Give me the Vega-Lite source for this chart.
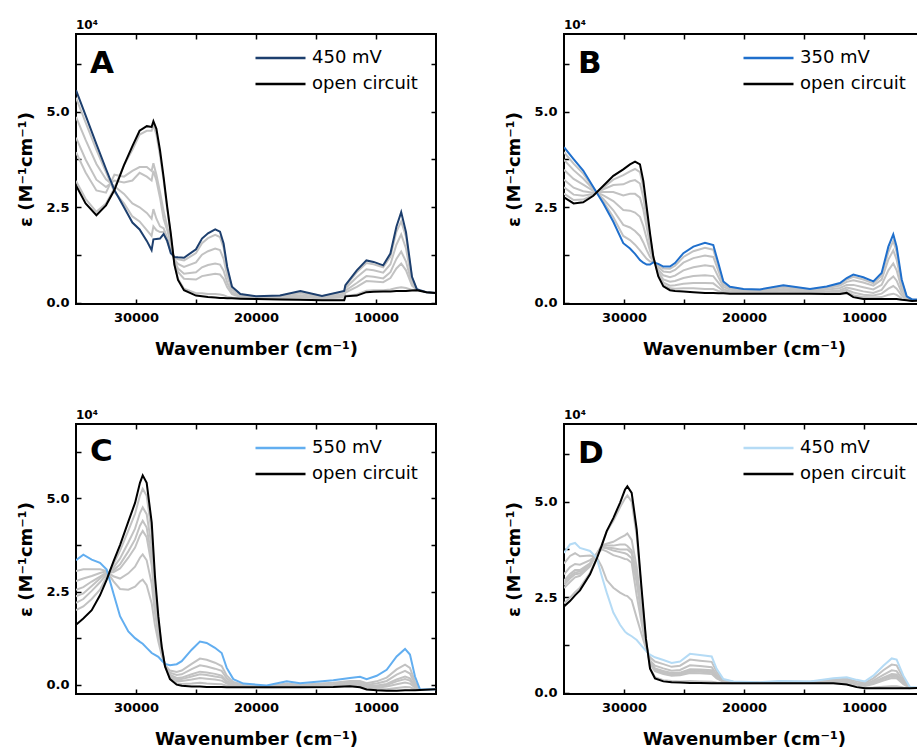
{"$schema":"https://vega.github.io/schema/vega-lite/v6.json","background":"white","padding":{"left":16,"top":18,"right":0,"bottom":0},
"datasets":{
"A":[{"s":"K","x":35000,"y":3.07},{"s":"K","x":34200,"y":2.6},{"s":"K","x":33300,"y":2.29},{"s":"K","x":32500,"y":2.55},{"s":"K","x":31800,"y":2.95},{"s":"K","x":31000,"y":3.6},{"s":"K","x":30300,"y":4.1},{"s":"K","x":29700,"y":4.5},{"s":"K","x":29100,"y":4.62},{"s":"K","x":28700,"y":4.6},{"s":"K","x":28550,"y":4.75},{"s":"K","x":28300,"y":4.55},{"s":"K","x":28000,"y":3.99},{"s":"K","x":27700,"y":3.29},{"s":"K","x":27400,"y":2.51},{"s":"K","x":27100,"y":1.81},{"s":"K","x":26800,"y":1.0},{"s":"K","x":26500,"y":0.6},{"s":"K","x":26000,"y":0.33},{"s":"K","x":25000,"y":0.19},{"s":"K","x":24500,"y":0.17},{"s":"K","x":24000,"y":0.15},{"s":"K","x":23400,"y":0.14},{"s":"K","x":23000,"y":0.13},{"s":"K","x":22700,"y":0.13},{"s":"K","x":22400,"y":0.12},{"s":"K","x":22000,"y":0.12},{"s":"K","x":21300,"y":0.11},{"s":"K","x":20000,"y":0.1},{"s":"K","x":18000,"y":0.09},{"s":"K","x":16300,"y":0.08},{"s":"K","x":14500,"y":0.07},{"s":"K","x":12650,"y":0.07},{"s":"K","x":12550,"y":0.17},{"s":"K","x":11600,"y":0.19},{"s":"K","x":10800,"y":0.28},{"s":"K","x":10200,"y":0.29},{"s":"K","x":9400,"y":0.3},{"s":"K","x":8800,"y":0.3},{"s":"K","x":8300,"y":0.31},{"s":"K","x":7900,"y":0.31},{"s":"K","x":7500,"y":0.31},{"s":"K","x":7000,"y":0.32},{"s":"K","x":6600,"y":0.33},{"s":"K","x":5800,"y":0.28},{"s":"K","x":5000,"y":0.26},
{"s":"N","x":35000,"y":5.56},{"s":"N","x":34200,"y":4.9},{"s":"N","x":33300,"y":4.15},{"s":"N","x":32500,"y":3.5},{"s":"N","x":31800,"y":2.95},{"s":"N","x":31000,"y":2.5},{"s":"N","x":30300,"y":2.1},{"s":"N","x":29700,"y":1.92},{"s":"N","x":29100,"y":1.62},{"s":"N","x":28700,"y":1.38},{"s":"N","x":28550,"y":1.66},{"s":"N","x":28300,"y":1.67},{"s":"N","x":28000,"y":1.68},{"s":"N","x":27700,"y":1.8},{"s":"N","x":27400,"y":1.62},{"s":"N","x":27100,"y":1.3},{"s":"N","x":26800,"y":1.2},{"s":"N","x":26500,"y":1.19},{"s":"N","x":26000,"y":1.18},{"s":"N","x":25000,"y":1.4},{"s":"N","x":24500,"y":1.68},{"s":"N","x":24000,"y":1.82},{"s":"N","x":23400,"y":1.92},{"s":"N","x":23000,"y":1.86},{"s":"N","x":22700,"y":1.55},{"s":"N","x":22400,"y":0.94},{"s":"N","x":22000,"y":0.42},{"s":"N","x":21300,"y":0.23},{"s":"N","x":20000,"y":0.17},{"s":"N","x":18000,"y":0.19},{"s":"N","x":16300,"y":0.31},{"s":"N","x":14500,"y":0.18},{"s":"N","x":12650,"y":0.31},{"s":"N","x":12550,"y":0.46},{"s":"N","x":11600,"y":0.85},{"s":"N","x":10800,"y":1.11},{"s":"N","x":10200,"y":1.07},{"s":"N","x":9400,"y":0.98},{"s":"N","x":8800,"y":1.29},{"s":"N","x":8300,"y":1.99},{"s":"N","x":7900,"y":2.37},{"s":"N","x":7500,"y":1.85},{"s":"N","x":7000,"y":0.68},{"s":"N","x":6600,"y":0.36},{"s":"N","x":5800,"y":0.28},{"s":"N","x":5000,"y":0.26},
{"s":"a","x":35000,"y":5.36},{"s":"a","x":34200,"y":4.72},{"s":"a","x":33300,"y":4.0},{"s":"a","x":32500,"y":3.42},{"s":"a","x":31800,"y":2.9},{"s":"a","x":31000,"y":2.6},{"s":"a","x":30300,"y":2.26},{"s":"a","x":29700,"y":2.13},{"s":"a","x":29100,"y":1.9},{"s":"a","x":28700,"y":1.75},{"s":"a","x":28550,"y":2.0},{"s":"a","x":28300,"y":1.9},{"s":"a","x":28000,"y":1.85},{"s":"a","x":27700,"y":1.85},{"s":"a","x":27400,"y":1.6},{"s":"a","x":27100,"y":1.34},{"s":"a","x":26800,"y":1.18},{"s":"a","x":26500,"y":1.14},{"s":"a","x":26000,"y":1.11},{"s":"a","x":25000,"y":1.3},{"s":"a","x":24500,"y":1.56},{"s":"a","x":24000,"y":1.69},{"s":"a","x":23400,"y":1.78},{"s":"a","x":23000,"y":1.72},{"s":"a","x":22700,"y":1.44},{"s":"a","x":22400,"y":0.87},{"s":"a","x":22000,"y":0.4},{"s":"a","x":21300,"y":0.22},{"s":"a","x":20000,"y":0.16},{"s":"a","x":18000,"y":0.18},{"s":"a","x":16300,"y":0.29},{"s":"a","x":14500,"y":0.17},{"s":"a","x":12650,"y":0.29},{"s":"a","x":12550,"y":0.44},{"s":"a","x":11600,"y":0.8},{"s":"a","x":10800,"y":1.04},{"s":"a","x":10200,"y":1.01},{"s":"a","x":9400,"y":0.93},{"s":"a","x":8800,"y":1.21},{"s":"a","x":8300,"y":1.86},{"s":"a","x":7900,"y":2.13},{"s":"a","x":7500,"y":1.73},{"s":"a","x":7000,"y":0.65},{"s":"a","x":6600,"y":0.36},
{"s":"b","x":35000,"y":4.86},{"s":"b","x":34200,"y":4.26},{"s":"b","x":33300,"y":3.63},{"s":"b","x":32500,"y":3.23},{"s":"b","x":31800,"y":3.05},{"s":"b","x":31000,"y":2.85},{"s":"b","x":30300,"y":2.6},{"s":"b","x":29700,"y":2.5},{"s":"b","x":29100,"y":2.35},{"s":"b","x":28700,"y":2.2},{"s":"b","x":28550,"y":2.45},{"s":"b","x":28300,"y":2.2},{"s":"b","x":28000,"y":2.0},{"s":"b","x":27700,"y":1.95},{"s":"b","x":27400,"y":1.7},{"s":"b","x":27100,"y":1.44},{"s":"b","x":26800,"y":1.14},{"s":"b","x":26500,"y":1.02},{"s":"b","x":26000,"y":0.94},{"s":"b","x":25000,"y":1.06},{"s":"b","x":24500,"y":1.26},{"s":"b","x":24000,"y":1.35},{"s":"b","x":23400,"y":1.42},{"s":"b","x":23000,"y":1.38},{"s":"b","x":22700,"y":1.15},{"s":"b","x":22400,"y":0.71},{"s":"b","x":22000,"y":0.34},{"s":"b","x":21300,"y":0.2},{"s":"b","x":20000,"y":0.15},{"s":"b","x":18000,"y":0.16},{"s":"b","x":16300,"y":0.25},{"s":"b","x":14500,"y":0.15},{"s":"b","x":12650,"y":0.24},{"s":"b","x":12550,"y":0.38},{"s":"b","x":11600,"y":0.67},{"s":"b","x":10800,"y":0.88},{"s":"b","x":10200,"y":0.85},{"s":"b","x":9400,"y":0.79},{"s":"b","x":8800,"y":1.01},{"s":"b","x":8300,"y":1.52},{"s":"b","x":7900,"y":1.79},{"s":"b","x":7500,"y":1.42},{"s":"b","x":7000,"y":0.58},{"s":"b","x":6600,"y":0.35},
{"s":"c","x":35000,"y":4.32},{"s":"c","x":34200,"y":3.75},{"s":"c","x":33300,"y":3.22},{"s":"c","x":32500,"y":3.03},{"s":"c","x":31800,"y":3.2},{"s":"c","x":31000,"y":3.15},{"s":"c","x":30300,"y":3.2},{"s":"c","x":29700,"y":3.4},{"s":"c","x":29100,"y":3.3},{"s":"c","x":28700,"y":3.2},{"s":"c","x":28550,"y":3.45},{"s":"c","x":28300,"y":3.2},{"s":"c","x":28000,"y":2.75},{"s":"c","x":27700,"y":2.2},{"s":"c","x":27400,"y":1.9},{"s":"c","x":27100,"y":1.56},{"s":"c","x":26800,"y":1.1},{"s":"c","x":26500,"y":0.9},{"s":"c","x":26000,"y":0.76},{"s":"c","x":25000,"y":0.8},{"s":"c","x":24500,"y":0.93},{"s":"c","x":24000,"y":0.99},{"s":"c","x":23400,"y":1.03},{"s":"c","x":23000,"y":1.0},{"s":"c","x":22700,"y":0.84},{"s":"c","x":22400,"y":0.53},{"s":"c","x":22000,"y":0.27},{"s":"c","x":21300,"y":0.17},{"s":"c","x":20000,"y":0.14},{"s":"c","x":18000,"y":0.14},{"s":"c","x":16300,"y":0.2},{"s":"c","x":14500,"y":0.13},{"s":"c","x":12650,"y":0.19},{"s":"c","x":12550,"y":0.32},{"s":"c","x":11600,"y":0.52},{"s":"c","x":10800,"y":0.7},{"s":"c","x":10200,"y":0.68},{"s":"c","x":9400,"y":0.64},{"s":"c","x":8800,"y":0.8},{"s":"c","x":8300,"y":1.15},{"s":"c","x":7900,"y":1.34},{"s":"c","x":7500,"y":1.08},{"s":"c","x":7000,"y":0.5},{"s":"c","x":6600,"y":0.35},
{"s":"d","x":35000,"y":3.94},{"s":"d","x":34200,"y":3.41},{"s":"d","x":33300,"y":2.94},{"s":"d","x":32500,"y":2.88},{"s":"d","x":31800,"y":3.35},{"s":"d","x":31000,"y":3.3},{"s":"d","x":30300,"y":3.45},{"s":"d","x":29700,"y":3.55},{"s":"d","x":29100,"y":3.55},{"s":"d","x":28700,"y":3.45},{"s":"d","x":28550,"y":3.65},{"s":"d","x":28300,"y":3.35},{"s":"d","x":28000,"y":2.9},{"s":"d","x":27700,"y":2.4},{"s":"d","x":27400,"y":2.0},{"s":"d","x":27100,"y":1.63},{"s":"d","x":26800,"y":1.07},{"s":"d","x":26500,"y":0.81},{"s":"d","x":26000,"y":0.63},{"s":"d","x":25000,"y":0.61},{"s":"d","x":24500,"y":0.7},{"s":"d","x":24000,"y":0.73},{"s":"d","x":23400,"y":0.76},{"s":"d","x":23000,"y":0.74},{"s":"d","x":22700,"y":0.63},{"s":"d","x":22400,"y":0.41},{"s":"d","x":22000,"y":0.23},{"s":"d","x":21300,"y":0.15},{"s":"d","x":20000,"y":0.12},{"s":"d","x":18000,"y":0.13},{"s":"d","x":16300,"y":0.16},{"s":"d","x":14500,"y":0.11},{"s":"d","x":12650,"y":0.15},{"s":"d","x":12550,"y":0.27},{"s":"d","x":11600,"y":0.42},{"s":"d","x":10800,"y":0.57},{"s":"d","x":10200,"y":0.56},{"s":"d","x":9400,"y":0.54},{"s":"d","x":8800,"y":0.65},{"s":"d","x":8300,"y":0.9},{"s":"d","x":7900,"y":1.03},{"s":"d","x":7500,"y":0.85},{"s":"d","x":7000,"y":0.45},{"s":"d","x":6600,"y":0.34},
{"s":"e","x":35000,"y":3.19},{"s":"e","x":34200,"y":2.72},{"s":"e","x":33300,"y":2.38},{"s":"e","x":32500,"y":2.6},{"s":"e","x":31800,"y":3.0},{"s":"e","x":31000,"y":3.6},{"s":"e","x":30300,"y":4.0},{"s":"e","x":29700,"y":4.4},{"s":"e","x":29100,"y":4.5},{"s":"e","x":28700,"y":4.5},{"s":"e","x":28550,"y":4.65},{"s":"e","x":28300,"y":4.4},{"s":"e","x":28000,"y":3.85},{"s":"e","x":27700,"y":3.2},{"s":"e","x":27400,"y":2.45},{"s":"e","x":27100,"y":1.78},{"s":"e","x":26800,"y":1.01},{"s":"e","x":26500,"y":0.63},{"s":"e","x":26000,"y":0.37},{"s":"e","x":25000,"y":0.25},{"s":"e","x":24500,"y":0.25},{"s":"e","x":24000,"y":0.23},{"s":"e","x":23400,"y":0.23},{"s":"e","x":23000,"y":0.22},{"s":"e","x":22700,"y":0.2},{"s":"e","x":22400,"y":0.16},{"s":"e","x":22000,"y":0.14},{"s":"e","x":21300,"y":0.12},{"s":"e","x":20000,"y":0.1},{"s":"e","x":18000,"y":0.1},{"s":"e","x":16300,"y":0.09},{"s":"e","x":14500,"y":0.08},{"s":"e","x":12650,"y":0.08},{"s":"e","x":12550,"y":0.18},{"s":"e","x":11600,"y":0.22},{"s":"e","x":10800,"y":0.32},{"s":"e","x":10200,"y":0.33},{"s":"e","x":9400,"y":0.33},{"s":"e","x":8800,"y":0.35},{"s":"e","x":8300,"y":0.39},{"s":"e","x":7900,"y":0.41},{"s":"e","x":7500,"y":0.39},{"s":"e","x":7000,"y":0.34},{"s":"e","x":6600,"y":0.33}],
"B":[{"s":"K","x":35000,"y":2.76},{"s":"K","x":34200,"y":2.6},{"s":"K","x":33400,"y":2.63},{"s":"K","x":32560,"y":2.8},{"s":"K","x":31720,"y":3.06},{"s":"K","x":30890,"y":3.32},{"s":"K","x":30060,"y":3.49},{"s":"K","x":29500,"y":3.62},{"s":"K","x":29080,"y":3.69},{"s":"K","x":28670,"y":3.62},{"s":"K","x":28390,"y":3.19},{"s":"K","x":28110,"y":2.5},{"s":"K","x":27830,"y":1.81},{"s":"K","x":27560,"y":1.21},{"s":"K","x":27140,"y":0.69},{"s":"K","x":26720,"y":0.43},{"s":"K","x":26170,"y":0.33},{"s":"K","x":25750,"y":0.31},{"s":"K","x":25050,"y":0.3},{"s":"K","x":24220,"y":0.28},{"s":"K","x":23250,"y":0.26},{"s":"K","x":22560,"y":0.26},{"s":"K","x":22140,"y":0.25},{"s":"K","x":21720,"y":0.25},{"s":"K","x":21170,"y":0.24},{"s":"K","x":20050,"y":0.24},{"s":"K","x":18670,"y":0.24},{"s":"K","x":16720,"y":0.24},{"s":"K","x":14500,"y":0.24},{"s":"K","x":13110,"y":0.23},{"s":"K","x":12000,"y":0.23},{"s":"K","x":11440,"y":0.26},{"s":"K","x":10890,"y":0.15},{"s":"K","x":10060,"y":0.1},{"s":"K","x":9220,"y":0.1},{"s":"K","x":8530,"y":0.1},{"s":"K","x":7970,"y":0.1},{"s":"K","x":7560,"y":0.1},{"s":"K","x":7280,"y":0.1},{"s":"K","x":6860,"y":0.08},{"s":"K","x":6440,"y":0.07},{"s":"K","x":6000,"y":0.05},{"s":"K","x":5000,"y":0.06},
{"s":"N","x":35000,"y":4.07},{"s":"N","x":34200,"y":3.76},{"s":"N","x":33400,"y":3.46},{"s":"N","x":32560,"y":3.03},{"s":"N","x":31720,"y":2.6},{"s":"N","x":30890,"y":2.12},{"s":"N","x":30060,"y":1.56},{"s":"N","x":29500,"y":1.42},{"s":"N","x":29080,"y":1.28},{"s":"N","x":28670,"y":1.12},{"s":"N","x":28390,"y":1.05},{"s":"N","x":28110,"y":1.0},{"s":"N","x":27830,"y":1.0},{"s":"N","x":27560,"y":1.06},{"s":"N","x":27140,"y":1.02},{"s":"N","x":26720,"y":0.95},{"s":"N","x":26170,"y":0.95},{"s":"N","x":25750,"y":1.04},{"s":"N","x":25050,"y":1.3},{"s":"N","x":24220,"y":1.47},{"s":"N","x":23250,"y":1.57},{"s":"N","x":22560,"y":1.51},{"s":"N","x":22140,"y":1.04},{"s":"N","x":21720,"y":0.56},{"s":"N","x":21170,"y":0.42},{"s":"N","x":20050,"y":0.36},{"s":"N","x":18670,"y":0.35},{"s":"N","x":16720,"y":0.46},{"s":"N","x":14500,"y":0.36},{"s":"N","x":13110,"y":0.43},{"s":"N","x":12000,"y":0.52},{"s":"N","x":11440,"y":0.65},{"s":"N","x":10890,"y":0.74},{"s":"N","x":10060,"y":0.67},{"s":"N","x":9220,"y":0.56},{"s":"N","x":8530,"y":0.78},{"s":"N","x":7970,"y":1.47},{"s":"N","x":7560,"y":1.79},{"s":"N","x":7280,"y":1.47},{"s":"N","x":6860,"y":0.61},{"s":"N","x":6440,"y":0.17},{"s":"N","x":6000,"y":0.09},{"s":"N","x":5000,"y":0.08},
{"s":"a","x":35000,"y":3.94},{"s":"a","x":34200,"y":3.64},{"s":"a","x":33400,"y":3.38},{"s":"a","x":32560,"y":3.01},{"s":"a","x":31720,"y":2.65},{"s":"a","x":30890,"y":2.24},{"s":"a","x":30060,"y":1.75},{"s":"a","x":29500,"y":1.64},{"s":"a","x":29080,"y":1.52},{"s":"a","x":28670,"y":1.37},{"s":"a","x":28390,"y":1.26},{"s":"a","x":28110,"y":1.15},{"s":"a","x":27830,"y":1.08},{"s":"a","x":27560,"y":1.08},{"s":"a","x":27140,"y":0.99},{"s":"a","x":26720,"y":0.9},{"s":"a","x":26170,"y":0.89},{"s":"a","x":25750,"y":0.97},{"s":"a","x":25050,"y":1.2},{"s":"a","x":24220,"y":1.35},{"s":"a","x":23250,"y":1.44},{"s":"a","x":22560,"y":1.39},{"s":"a","x":22140,"y":0.96},{"s":"a","x":21720,"y":0.53},{"s":"a","x":21170,"y":0.4},{"s":"a","x":20050,"y":0.35},{"s":"a","x":18670,"y":0.34},{"s":"a","x":16720,"y":0.44},{"s":"a","x":14500,"y":0.35},{"s":"a","x":13110,"y":0.41},{"s":"a","x":12000,"y":0.49},{"s":"a","x":11440,"y":0.61},{"s":"a","x":10890,"y":0.68},{"s":"a","x":10060,"y":0.61},{"s":"a","x":9220,"y":0.51},{"s":"a","x":8530,"y":0.71},{"s":"a","x":7970,"y":1.33},{"s":"a","x":7560,"y":1.62},{"s":"a","x":7280,"y":1.33},{"s":"a","x":6860,"y":0.56},{"s":"a","x":6440,"y":0.16},{"s":"a","x":6000,"y":0.09},
{"s":"b","x":35000,"y":3.74},{"s":"b","x":34200,"y":3.47},{"s":"b","x":33400,"y":3.25},{"s":"b","x":32560,"y":2.97},{"s":"b","x":31720,"y":2.72},{"s":"b","x":30890,"y":2.42},{"s":"b","x":30060,"y":2.04},{"s":"b","x":29500,"y":1.97},{"s":"b","x":29080,"y":1.88},{"s":"b","x":28670,"y":1.75},{"s":"b","x":28390,"y":1.58},{"s":"b","x":28110,"y":1.38},{"s":"b","x":27830,"y":1.2},{"s":"b","x":27560,"y":1.1},{"s":"b","x":27140,"y":0.94},{"s":"b","x":26720,"y":0.82},{"s":"b","x":26170,"y":0.8},{"s":"b","x":25750,"y":0.86},{"s":"b","x":25050,"y":1.05},{"s":"b","x":24220,"y":1.17},{"s":"b","x":23250,"y":1.24},{"s":"b","x":22560,"y":1.2},{"s":"b","x":22140,"y":0.84},{"s":"b","x":21720,"y":0.48},{"s":"b","x":21170,"y":0.38},{"s":"b","x":20050,"y":0.33},{"s":"b","x":18670,"y":0.32},{"s":"b","x":16720,"y":0.41},{"s":"b","x":14500,"y":0.33},{"s":"b","x":13110,"y":0.38},{"s":"b","x":12000,"y":0.45},{"s":"b","x":11440,"y":0.55},{"s":"b","x":10890,"y":0.59},{"s":"b","x":10060,"y":0.53},{"s":"b","x":9220,"y":0.45},{"s":"b","x":8530,"y":0.61},{"s":"b","x":7970,"y":1.13},{"s":"b","x":7560,"y":1.37},{"s":"b","x":7280,"y":1.13},{"s":"b","x":6860,"y":0.48},{"s":"b","x":6440,"y":0.15},{"s":"b","x":6000,"y":0.08},
{"s":"c","x":35000,"y":3.48},{"s":"c","x":34200,"y":3.24},{"s":"c","x":33400,"y":3.09},{"s":"c","x":32560,"y":2.93},{"s":"c","x":31720,"y":2.81},{"s":"c","x":30890,"y":2.66},{"s":"c","x":30060,"y":2.43},{"s":"c","x":29500,"y":2.41},{"s":"c","x":29080,"y":2.36},{"s":"c","x":28670,"y":2.25},{"s":"c","x":28390,"y":2.01},{"s":"c","x":28110,"y":1.68},{"s":"c","x":27830,"y":1.36},{"s":"c","x":27560,"y":1.13},{"s":"c","x":27140,"y":0.87},{"s":"c","x":26720,"y":0.72},{"s":"c","x":26170,"y":0.67},{"s":"c","x":25750,"y":0.71},{"s":"c","x":25050,"y":0.85},{"s":"c","x":24220,"y":0.93},{"s":"c","x":23250,"y":0.98},{"s":"c","x":22560,"y":0.95},{"s":"c","x":22140,"y":0.68},{"s":"c","x":21720,"y":0.42},{"s":"c","x":21170,"y":0.34},{"s":"c","x":20050,"y":0.31},{"s":"c","x":18670,"y":0.3},{"s":"c","x":16720,"y":0.36},{"s":"c","x":14500,"y":0.31},{"s":"c","x":13110,"y":0.34},{"s":"c","x":12000,"y":0.39},{"s":"c","x":11440,"y":0.47},{"s":"c","x":10890,"y":0.47},{"s":"c","x":10060,"y":0.41},{"s":"c","x":9220,"y":0.35},{"s":"c","x":8530,"y":0.47},{"s":"c","x":7970,"y":0.85},{"s":"c","x":7560,"y":1.03},{"s":"c","x":7280,"y":0.85},{"s":"c","x":6860,"y":0.37},{"s":"c","x":6440,"y":0.13},{"s":"c","x":6000,"y":0.07},
{"s":"d","x":35000,"y":3.22},{"s":"d","x":34200,"y":3.01},{"s":"d","x":33400,"y":2.92},{"s":"d","x":32560,"y":2.88},{"s":"d","x":31720,"y":2.9},{"s":"d","x":30890,"y":2.9},{"s":"d","x":30060,"y":2.81},{"s":"d","x":29500,"y":2.85},{"s":"d","x":29080,"y":2.85},{"s":"d","x":28670,"y":2.75},{"s":"d","x":28390,"y":2.44},{"s":"d","x":28110,"y":1.98},{"s":"d","x":27830,"y":1.53},{"s":"d","x":27560,"y":1.16},{"s":"d","x":27140,"y":0.81},{"s":"d","x":26720,"y":0.61},{"s":"d","x":26170,"y":0.55},{"s":"d","x":25750,"y":0.57},{"s":"d","x":25050,"y":0.65},{"s":"d","x":24220,"y":0.7},{"s":"d","x":23250,"y":0.72},{"s":"d","x":22560,"y":0.7},{"s":"d","x":22140,"y":0.53},{"s":"d","x":21720,"y":0.36},{"s":"d","x":21170,"y":0.3},{"s":"d","x":20050,"y":0.28},{"s":"d","x":18670,"y":0.28},{"s":"d","x":16720,"y":0.32},{"s":"d","x":14500,"y":0.28},{"s":"d","x":13110,"y":0.3},{"s":"d","x":12000,"y":0.33},{"s":"d","x":11440,"y":0.4},{"s":"d","x":10890,"y":0.36},{"s":"d","x":10060,"y":0.3},{"s":"d","x":9220,"y":0.26},{"s":"d","x":8530,"y":0.34},{"s":"d","x":7970,"y":0.58},{"s":"d","x":7560,"y":0.69},{"s":"d","x":7280,"y":0.58},{"s":"d","x":6860,"y":0.27},{"s":"d","x":6440,"y":0.11},{"s":"d","x":6000,"y":0.06},
{"s":"e","x":35000,"y":3.02},{"s":"e","x":34200,"y":2.83},{"s":"e","x":33400,"y":2.8},{"s":"e","x":32560,"y":2.85},{"s":"e","x":31720,"y":2.97},{"s":"e","x":30890,"y":3.08},{"s":"e","x":30060,"y":3.1},{"s":"e","x":29500,"y":3.18},{"s":"e","x":29080,"y":3.21},{"s":"e","x":28670,"y":3.12},{"s":"e","x":28390,"y":2.76},{"s":"e","x":28110,"y":2.2},{"s":"e","x":27830,"y":1.65},{"s":"e","x":27560,"y":1.18},{"s":"e","x":27140,"y":0.76},{"s":"e","x":26720,"y":0.53},{"s":"e","x":26170,"y":0.45},{"s":"e","x":25750,"y":0.46},{"s":"e","x":25050,"y":0.5},{"s":"e","x":24220,"y":0.52},{"s":"e","x":23250,"y":0.52},{"s":"e","x":22560,"y":0.51},{"s":"e","x":22140,"y":0.41},{"s":"e","x":21720,"y":0.31},{"s":"e","x":21170,"y":0.28},{"s":"e","x":20050,"y":0.26},{"s":"e","x":18670,"y":0.26},{"s":"e","x":16720,"y":0.28},{"s":"e","x":14500,"y":0.26},{"s":"e","x":13110,"y":0.27},{"s":"e","x":12000,"y":0.29},{"s":"e","x":11440,"y":0.34},{"s":"e","x":10890,"y":0.27},{"s":"e","x":10060,"y":0.21},{"s":"e","x":9220,"y":0.19},{"s":"e","x":8530,"y":0.24},{"s":"e","x":7970,"y":0.37},{"s":"e","x":7560,"y":0.44},{"s":"e","x":7280,"y":0.37},{"s":"e","x":6860,"y":0.19},{"s":"e","x":6440,"y":0.09},{"s":"e","x":6000,"y":0.06},
{"s":"f","x":35000,"y":2.86},{"s":"f","x":34200,"y":2.69},{"s":"f","x":33400,"y":2.7},{"s":"f","x":32560,"y":2.82},{"s":"f","x":31720,"y":3.02},{"s":"f","x":30890,"y":3.22},{"s":"f","x":30060,"y":3.34},{"s":"f","x":29500,"y":3.44},{"s":"f","x":29080,"y":3.5},{"s":"f","x":28670,"y":3.42},{"s":"f","x":28390,"y":3.02},{"s":"f","x":28110,"y":2.38},{"s":"f","x":27830,"y":1.75},{"s":"f","x":27560,"y":1.2},{"s":"f","x":27140,"y":0.72},{"s":"f","x":26720,"y":0.47},{"s":"f","x":26170,"y":0.38},{"s":"f","x":25750,"y":0.37},{"s":"f","x":25050,"y":0.38},{"s":"f","x":24220,"y":0.38},{"s":"f","x":23250,"y":0.36},{"s":"f","x":22560,"y":0.36},{"s":"f","x":22140,"y":0.31},{"s":"f","x":21720,"y":0.27},{"s":"f","x":21170,"y":0.25},{"s":"f","x":20050,"y":0.25},{"s":"f","x":18670,"y":0.25},{"s":"f","x":16720,"y":0.26},{"s":"f","x":14500,"y":0.25},{"s":"f","x":13110,"y":0.25},{"s":"f","x":12000,"y":0.25},{"s":"f","x":11440,"y":0.29},{"s":"f","x":10890,"y":0.2},{"s":"f","x":10060,"y":0.15},{"s":"f","x":9220,"y":0.14},{"s":"f","x":8530,"y":0.15},{"s":"f","x":7970,"y":0.21},{"s":"f","x":7560,"y":0.24},{"s":"f","x":7280,"y":0.21},{"s":"f","x":6860,"y":0.12},{"s":"f","x":6440,"y":0.08},{"s":"f","x":6000,"y":0.05}],
"C":[{"s":"K","x":35000,"y":1.61},{"s":"K","x":34390,"y":1.78},{"s":"K","x":33690,"y":2.0},{"s":"K","x":33000,"y":2.4},{"s":"K","x":32440,"y":2.82},{"s":"K","x":31890,"y":3.3},{"s":"K","x":31330,"y":3.75},{"s":"K","x":30640,"y":4.38},{"s":"K","x":30080,"y":4.88},{"s":"K","x":29670,"y":5.42},{"s":"K","x":29440,"y":5.62},{"s":"K","x":29110,"y":5.42},{"s":"K","x":28690,"y":4.35},{"s":"K","x":28420,"y":2.91},{"s":"K","x":28140,"y":1.84},{"s":"K","x":27860,"y":1.03},{"s":"K","x":27580,"y":0.49},{"s":"K","x":27170,"y":0.15},{"s":"K","x":26610,"y":0.0},{"s":"K","x":26190,"y":-0.03},{"s":"K","x":25360,"y":-0.05},{"s":"K","x":24670,"y":-0.05},{"s":"K","x":24110,"y":-0.06},{"s":"K","x":23420,"y":-0.06},{"s":"K","x":22860,"y":-0.06},{"s":"K","x":22440,"y":-0.07},{"s":"K","x":21890,"y":-0.07},{"s":"K","x":21050,"y":-0.07},{"s":"K","x":19110,"y":-0.07},{"s":"K","x":17440,"y":-0.07},{"s":"K","x":16330,"y":-0.07},{"s":"K","x":13560,"y":-0.06},{"s":"K","x":12170,"y":-0.04},{"s":"K","x":11330,"y":-0.07},{"s":"K","x":10780,"y":-0.13},{"s":"K","x":9940,"y":-0.15},{"s":"K","x":9110,"y":-0.16},{"s":"K","x":8280,"y":-0.16},{"s":"K","x":7580,"y":-0.15},{"s":"K","x":7170,"y":-0.15},{"s":"K","x":6750,"y":-0.15},{"s":"K","x":6330,"y":-0.14},{"s":"K","x":5000,"y":-0.12},
{"s":"N","x":35000,"y":3.34},{"s":"N","x":34390,"y":3.49},{"s":"N","x":33690,"y":3.36},{"s":"N","x":33000,"y":3.27},{"s":"N","x":32440,"y":3.09},{"s":"N","x":31890,"y":2.46},{"s":"N","x":31330,"y":1.84},{"s":"N","x":30640,"y":1.43},{"s":"N","x":30080,"y":1.25},{"s":"N","x":29670,"y":1.15},{"s":"N","x":29440,"y":1.1},{"s":"N","x":29110,"y":0.99},{"s":"N","x":28690,"y":0.85},{"s":"N","x":28420,"y":0.8},{"s":"N","x":28140,"y":0.75},{"s":"N","x":27860,"y":0.65},{"s":"N","x":27580,"y":0.56},{"s":"N","x":27170,"y":0.52},{"s":"N","x":26610,"y":0.55},{"s":"N","x":26190,"y":0.63},{"s":"N","x":25360,"y":0.94},{"s":"N","x":24670,"y":1.16},{"s":"N","x":24110,"y":1.12},{"s":"N","x":23420,"y":0.99},{"s":"N","x":22860,"y":0.85},{"s":"N","x":22440,"y":0.45},{"s":"N","x":21890,"y":0.15},{"s":"N","x":21050,"y":0.03},{"s":"N","x":19110,"y":-0.02},{"s":"N","x":17440,"y":0.09},{"s":"N","x":16330,"y":0.04},{"s":"N","x":13560,"y":0.12},{"s":"N","x":12170,"y":0.18},{"s":"N","x":11330,"y":0.21},{"s":"N","x":10780,"y":0.15},{"s":"N","x":9940,"y":0.24},{"s":"N","x":9110,"y":0.4},{"s":"N","x":8280,"y":0.76},{"s":"N","x":7580,"y":0.96},{"s":"N","x":7170,"y":0.81},{"s":"N","x":6750,"y":0.22},{"s":"N","x":6330,"y":-0.13},{"s":"N","x":5000,"y":-0.12},
{"s":"a","x":35000,"y":3.05},{"s":"a","x":34390,"y":3.1},{"s":"a","x":33690,"y":3.1},{"s":"a","x":33000,"y":3.1},{"s":"a","x":32440,"y":3.05},{"s":"a","x":31890,"y":2.78},{"s":"a","x":31330,"y":2.57},{"s":"a","x":30640,"y":2.55},{"s":"a","x":30080,"y":2.63},{"s":"a","x":29670,"y":2.77},{"s":"a","x":29440,"y":2.82},{"s":"a","x":29110,"y":2.67},{"s":"a","x":28690,"y":2.18},{"s":"a","x":28420,"y":1.6},{"s":"a","x":28140,"y":1.16},{"s":"a","x":27860,"y":0.79},{"s":"a","x":27580,"y":0.53},{"s":"a","x":27170,"y":0.38},{"s":"a","x":26610,"y":0.34},{"s":"a","x":26190,"y":0.38},{"s":"a","x":25360,"y":0.56},{"s":"a","x":24670,"y":0.7},{"s":"a","x":24110,"y":0.67},{"s":"a","x":23420,"y":0.59},{"s":"a","x":22860,"y":0.5},{"s":"a","x":22440,"y":0.25},{"s":"a","x":21890,"y":0.07},{"s":"a","x":21050,"y":-0.01},{"s":"a","x":19110,"y":-0.04},{"s":"a","x":17440,"y":0.03},{"s":"a","x":16330,"y":0.0},{"s":"a","x":13560,"y":0.05},{"s":"a","x":12170,"y":0.1},{"s":"a","x":11330,"y":0.1},{"s":"a","x":10780,"y":0.04},{"s":"a","x":9940,"y":0.09},{"s":"a","x":9110,"y":0.19},{"s":"a","x":8280,"y":0.41},{"s":"a","x":7580,"y":0.54},{"s":"a","x":7170,"y":0.45},{"s":"a","x":6750,"y":0.08},{"s":"a","x":6330,"y":-0.13},
{"s":"b","x":35000,"y":2.78},{"s":"b","x":34390,"y":2.85},{"s":"b","x":33690,"y":2.92},{"s":"b","x":33000,"y":3.0},{"s":"b","x":32440,"y":3.05},{"s":"b","x":31890,"y":2.91},{"s":"b","x":31330,"y":2.85},{"s":"b","x":30640,"y":2.99},{"s":"b","x":30080,"y":3.17},{"s":"b","x":29670,"y":3.41},{"s":"b","x":29440,"y":3.5},{"s":"b","x":29110,"y":3.34},{"s":"b","x":28690,"y":2.71},{"s":"b","x":28420,"y":1.92},{"s":"b","x":28140,"y":1.33},{"s":"b","x":27860,"y":0.85},{"s":"b","x":27580,"y":0.52},{"s":"b","x":27170,"y":0.32},{"s":"b","x":26610,"y":0.26},{"s":"b","x":26190,"y":0.28},{"s":"b","x":25360,"y":0.42},{"s":"b","x":24670,"y":0.52},{"s":"b","x":24110,"y":0.49},{"s":"b","x":23420,"y":0.43},{"s":"b","x":22860,"y":0.37},{"s":"b","x":22440,"y":0.17},{"s":"b","x":21890,"y":0.03},{"s":"b","x":21050,"y":-0.02},{"s":"b","x":19110,"y":-0.05},{"s":"b","x":17440,"y":0.01},{"s":"b","x":16330,"y":-0.02},{"s":"b","x":13560,"y":0.02},{"s":"b","x":12170,"y":0.06},{"s":"b","x":11330,"y":0.06},{"s":"b","x":10780,"y":0.0},{"s":"b","x":9940,"y":0.03},{"s":"b","x":9110,"y":0.1},{"s":"b","x":8280,"y":0.27},{"s":"b","x":7580,"y":0.37},{"s":"b","x":7170,"y":0.3},{"s":"b","x":6750,"y":0.02},{"s":"b","x":6330,"y":-0.13},
{"s":"c","x":35000,"y":2.55},{"s":"c","x":34390,"y":2.62},{"s":"c","x":33690,"y":2.77},{"s":"c","x":33000,"y":2.9},{"s":"c","x":32440,"y":3.02},{"s":"c","x":31890,"y":3.02},{"s":"c","x":31330,"y":3.12},{"s":"c","x":30640,"y":3.41},{"s":"c","x":30080,"y":3.68},{"s":"c","x":29670,"y":4.01},{"s":"c","x":29440,"y":4.13},{"s":"c","x":29110,"y":3.96},{"s":"c","x":28690,"y":3.2},{"s":"c","x":28420,"y":2.21},{"s":"c","x":28140,"y":1.48},{"s":"c","x":27860,"y":0.9},{"s":"c","x":27580,"y":0.51},{"s":"c","x":27170,"y":0.27},{"s":"c","x":26610,"y":0.18},{"s":"c","x":26190,"y":0.19},{"s":"c","x":25360,"y":0.28},{"s":"c","x":24670,"y":0.35},{"s":"c","x":24110,"y":0.33},{"s":"c","x":23420,"y":0.29},{"s":"c","x":22860,"y":0.24},{"s":"c","x":22440,"y":0.1},{"s":"c","x":21890,"y":0.0},{"s":"c","x":21050,"y":-0.04},{"s":"c","x":19110,"y":-0.05},{"s":"c","x":17440,"y":-0.02},{"s":"c","x":16330,"y":-0.03},{"s":"c","x":13560,"y":0.0},{"s":"c","x":12170,"y":0.03},{"s":"c","x":11330,"y":0.02},{"s":"c","x":10780,"y":-0.04},{"s":"c","x":9940,"y":-0.02},{"s":"c","x":9110,"y":0.02},{"s":"c","x":8280,"y":0.14},{"s":"c","x":7580,"y":0.22},{"s":"c","x":7170,"y":0.17},{"s":"c","x":6750,"y":-0.03},{"s":"c","x":6330,"y":-0.13},
{"s":"d","x":35000,"y":2.37},{"s":"d","x":34390,"y":2.45},{"s":"d","x":33690,"y":2.65},{"s":"d","x":33000,"y":2.85},{"s":"d","x":32440,"y":3.0},{"s":"d","x":31890,"y":3.07},{"s":"d","x":31330,"y":3.23},{"s":"d","x":30640,"y":3.58},{"s":"d","x":30080,"y":3.9},{"s":"d","x":29670,"y":4.27},{"s":"d","x":29440,"y":4.4},{"s":"d","x":29110,"y":4.22},{"s":"d","x":28690,"y":3.41},{"s":"d","x":28420,"y":2.34},{"s":"d","x":28140,"y":1.55},{"s":"d","x":27860,"y":0.93},{"s":"d","x":27580,"y":0.51},{"s":"d","x":27170,"y":0.25},{"s":"d","x":26610,"y":0.15},{"s":"d","x":26190,"y":0.15},{"s":"d","x":25360,"y":0.22},{"s":"d","x":24670,"y":0.28},{"s":"d","x":24110,"y":0.26},{"s":"d","x":23420,"y":0.22},{"s":"d","x":22860,"y":0.19},{"s":"d","x":22440,"y":0.07},{"s":"d","x":21890,"y":-0.01},{"s":"d","x":21050,"y":-0.04},{"s":"d","x":19110,"y":-0.06},{"s":"d","x":17440,"y":-0.03},{"s":"d","x":16330,"y":-0.04},{"s":"d","x":13560,"y":-0.01},{"s":"d","x":12170,"y":0.02},{"s":"d","x":11330,"y":0.01},{"s":"d","x":10780,"y":-0.05},{"s":"d","x":9940,"y":-0.04},{"s":"d","x":9110,"y":-0.01},{"s":"d","x":8280,"y":0.09},{"s":"d","x":7580,"y":0.15},{"s":"d","x":7170,"y":0.11},{"s":"d","x":6750,"y":-0.05},{"s":"d","x":6330,"y":-0.13},
{"s":"e","x":35000,"y":2.2},{"s":"e","x":34390,"y":2.3},{"s":"e","x":33690,"y":2.52},{"s":"e","x":33000,"y":2.75},{"s":"e","x":32440,"y":2.97},{"s":"e","x":31890,"y":3.14},{"s":"e","x":31330,"y":3.39},{"s":"e","x":30640,"y":3.82},{"s":"e","x":30080,"y":4.19},{"s":"e","x":29670,"y":4.61},{"s":"e","x":29440,"y":4.76},{"s":"e","x":29110,"y":4.58},{"s":"e","x":28690,"y":3.69},{"s":"e","x":28420,"y":2.51},{"s":"e","x":28140,"y":1.63},{"s":"e","x":27860,"y":0.96},{"s":"e","x":27580,"y":0.5},{"s":"e","x":27170,"y":0.22},{"s":"e","x":26610,"y":0.1},{"s":"e","x":26190,"y":0.1},{"s":"e","x":25360,"y":0.14},{"s":"e","x":24670,"y":0.18},{"s":"e","x":24110,"y":0.16},{"s":"e","x":23420,"y":0.14},{"s":"e","x":22860,"y":0.11},{"s":"e","x":22440,"y":0.03},{"s":"e","x":21890,"y":-0.03},{"s":"e","x":21050,"y":-0.05},{"s":"e","x":19110,"y":-0.06},{"s":"e","x":17440,"y":-0.04},{"s":"e","x":16330,"y":-0.05},{"s":"e","x":13560,"y":-0.03},{"s":"e","x":12170,"y":0.0},{"s":"e","x":11330,"y":-0.02},{"s":"e","x":10780,"y":-0.08},{"s":"e","x":9940,"y":-0.08},{"s":"e","x":9110,"y":-0.05},{"s":"e","x":8280,"y":0.01},{"s":"e","x":7580,"y":0.06},{"s":"e","x":7170,"y":0.03},{"s":"e","x":6750,"y":-0.08},{"s":"e","x":6330,"y":-0.13},
{"s":"f","x":35000,"y":2.0},{"s":"f","x":34390,"y":2.1},{"s":"f","x":33690,"y":2.3},{"s":"f","x":33000,"y":2.55},{"s":"f","x":32440,"y":2.9},{"s":"f","x":31890,"y":3.23},{"s":"f","x":31330,"y":3.6},{"s":"f","x":30640,"y":4.14},{"s":"f","x":30080,"y":4.59},{"s":"f","x":29670,"y":5.08},{"s":"f","x":29440,"y":5.26},{"s":"f","x":29110,"y":5.07},{"s":"f","x":28690,"y":4.07},{"s":"f","x":28420,"y":2.74},{"s":"f","x":28140,"y":1.75},{"s":"f","x":27860,"y":1.0},{"s":"f","x":27580,"y":0.5},{"s":"f","x":27170,"y":0.18},{"s":"f","x":26610,"y":0.04},{"s":"f","x":26190,"y":0.02},{"s":"f","x":25360,"y":0.03},{"s":"f","x":24670,"y":0.05},{"s":"f","x":24110,"y":0.03},{"s":"f","x":23420,"y":0.02},{"s":"f","x":22860,"y":0.01},{"s":"f","x":22440,"y":-0.03},{"s":"f","x":21890,"y":-0.05},{"s":"f","x":21050,"y":-0.06},{"s":"f","x":19110,"y":-0.07},{"s":"f","x":17440,"y":-0.06},{"s":"f","x":16330,"y":-0.06},{"s":"f","x":13560,"y":-0.05},{"s":"f","x":12170,"y":-0.02},{"s":"f","x":11330,"y":-0.05},{"s":"f","x":10780,"y":-0.11},{"s":"f","x":9940,"y":-0.12},{"s":"f","x":9110,"y":-0.12},{"s":"f","x":8280,"y":-0.09},{"s":"f","x":7580,"y":-0.06},{"s":"f","x":7170,"y":-0.07},{"s":"f","x":6750,"y":-0.12},{"s":"f","x":6330,"y":-0.13}],
"D":[{"s":"K","x":35000,"y":2.26},{"s":"K","x":34500,"y":2.4},{"s":"K","x":34080,"y":2.55},{"s":"K","x":33670,"y":2.68},{"s":"K","x":32830,"y":3.1},{"s":"K","x":32280,"y":3.5},{"s":"K","x":31860,"y":3.85},{"s":"K","x":31440,"y":4.23},{"s":"K","x":30890,"y":4.57},{"s":"K","x":30330,"y":4.97},{"s":"K","x":29920,"y":5.31},{"s":"K","x":29720,"y":5.4},{"s":"K","x":29360,"y":5.23},{"s":"K","x":28940,"y":4.27},{"s":"K","x":28530,"y":2.71},{"s":"K","x":28170,"y":1.41},{"s":"K","x":27830,"y":0.63},{"s":"K","x":27420,"y":0.38},{"s":"K","x":26720,"y":0.3},{"s":"K","x":26030,"y":0.28},{"s":"K","x":25330,"y":0.27},{"s":"K","x":24500,"y":0.26},{"s":"K","x":23670,"y":0.26},{"s":"K","x":22690,"y":0.25},{"s":"K","x":22280,"y":0.25},{"s":"K","x":21720,"y":0.25},{"s":"K","x":20890,"y":0.25},{"s":"K","x":18670,"y":0.25},{"s":"K","x":17000,"y":0.25},{"s":"K","x":14500,"y":0.25},{"s":"K","x":12560,"y":0.25},{"s":"K","x":11440,"y":0.22},{"s":"K","x":10610,"y":0.15},{"s":"K","x":9920,"y":0.12},{"s":"K","x":9220,"y":0.12},{"s":"K","x":8390,"y":0.12},{"s":"K","x":7690,"y":0.12},{"s":"K","x":7280,"y":0.12},{"s":"K","x":6720,"y":0.12},{"s":"K","x":6170,"y":0.12},{"s":"K","x":5000,"y":0.13},
{"s":"N","x":35000,"y":3.66},{"s":"N","x":34500,"y":3.88},{"s":"N","x":34080,"y":3.92},{"s":"N","x":33670,"y":3.79},{"s":"N","x":32830,"y":3.71},{"s":"N","x":32280,"y":3.53},{"s":"N","x":31860,"y":3.06},{"s":"N","x":31440,"y":2.62},{"s":"N","x":30890,"y":2.1},{"s":"N","x":30330,"y":1.78},{"s":"N","x":29920,"y":1.6},{"s":"N","x":29720,"y":1.55},{"s":"N","x":29360,"y":1.48},{"s":"N","x":28940,"y":1.38},{"s":"N","x":28530,"y":1.23},{"s":"N","x":28170,"y":1.1},{"s":"N","x":27830,"y":1.0},{"s":"N","x":27420,"y":0.93},{"s":"N","x":26720,"y":0.86},{"s":"N","x":26030,"y":0.78},{"s":"N","x":25330,"y":0.82},{"s":"N","x":24500,"y":1.02},{"s":"N","x":23670,"y":0.99},{"s":"N","x":22690,"y":0.95},{"s":"N","x":22280,"y":0.63},{"s":"N","x":21720,"y":0.36},{"s":"N","x":20890,"y":0.3},{"s":"N","x":18670,"y":0.28},{"s":"N","x":17000,"y":0.31},{"s":"N","x":14500,"y":0.3},{"s":"N","x":12560,"y":0.38},{"s":"N","x":11440,"y":0.41},{"s":"N","x":10610,"y":0.34},{"s":"N","x":9920,"y":0.3},{"s":"N","x":9220,"y":0.45},{"s":"N","x":8390,"y":0.71},{"s":"N","x":7690,"y":0.9},{"s":"N","x":7280,"y":0.87},{"s":"N","x":6720,"y":0.45},{"s":"N","x":6170,"y":0.15},{"s":"N","x":5000,"y":0.13},
{"s":"a","x":35000,"y":3.38},{"s":"a","x":34500,"y":3.58},{"s":"a","x":34080,"y":3.65},{"s":"a","x":33670,"y":3.57},{"s":"a","x":32830,"y":3.59},{"s":"a","x":32280,"y":3.55},{"s":"a","x":31860,"y":3.3},{"s":"a","x":31440,"y":2.95},{"s":"a","x":30890,"y":2.75},{"s":"a","x":30330,"y":2.62},{"s":"a","x":29920,"y":2.55},{"s":"a","x":29720,"y":2.53},{"s":"a","x":29360,"y":2.42},{"s":"a","x":28940,"y":1.96},{"s":"a","x":28530,"y":1.53},{"s":"a","x":28170,"y":1.16},{"s":"a","x":27830,"y":0.93},{"s":"a","x":27420,"y":0.82},{"s":"a","x":26720,"y":0.75},{"s":"a","x":26030,"y":0.68},{"s":"a","x":25330,"y":0.71},{"s":"a","x":24500,"y":0.87},{"s":"a","x":23670,"y":0.84},{"s":"a","x":22690,"y":0.81},{"s":"a","x":22280,"y":0.55},{"s":"a","x":21720,"y":0.34},{"s":"a","x":20890,"y":0.29},{"s":"a","x":18670,"y":0.27},{"s":"a","x":17000,"y":0.3},{"s":"a","x":14500,"y":0.29},{"s":"a","x":12560,"y":0.35},{"s":"a","x":11440,"y":0.37},{"s":"a","x":10610,"y":0.3},{"s":"a","x":9920,"y":0.26},{"s":"a","x":9220,"y":0.38},{"s":"a","x":8390,"y":0.59},{"s":"a","x":7690,"y":0.74},{"s":"a","x":7280,"y":0.72},{"s":"a","x":6720,"y":0.38},{"s":"a","x":6170,"y":0.14},
{"s":"b","x":35000,"y":3.1},{"s":"b","x":34500,"y":3.29},{"s":"b","x":34080,"y":3.37},{"s":"b","x":33670,"y":3.35},{"s":"b","x":32830,"y":3.47},{"s":"b","x":32280,"y":3.6},{"s":"b","x":31860,"y":3.75},{"s":"b","x":31440,"y":3.7},{"s":"b","x":30890,"y":3.6},{"s":"b","x":30330,"y":3.55},{"s":"b","x":29920,"y":3.5},{"s":"b","x":29720,"y":3.49},{"s":"b","x":29360,"y":3.4},{"s":"b","x":28940,"y":2.54},{"s":"b","x":28530,"y":1.82},{"s":"b","x":28170,"y":1.22},{"s":"b","x":27830,"y":0.85},{"s":"b","x":27420,"y":0.71},{"s":"b","x":26720,"y":0.64},{"s":"b","x":26030,"y":0.58},{"s":"b","x":25330,"y":0.6},{"s":"b","x":24500,"y":0.72},{"s":"b","x":23670,"y":0.7},{"s":"b","x":22690,"y":0.67},{"s":"b","x":22280,"y":0.48},{"s":"b","x":21720,"y":0.32},{"s":"b","x":20890,"y":0.28},{"s":"b","x":18670,"y":0.26},{"s":"b","x":17000,"y":0.29},{"s":"b","x":14500,"y":0.28},{"s":"b","x":12560,"y":0.33},{"s":"b","x":11440,"y":0.33},{"s":"b","x":10610,"y":0.26},{"s":"b","x":9920,"y":0.23},{"s":"b","x":9220,"y":0.32},{"s":"b","x":8390,"y":0.47},{"s":"b","x":7690,"y":0.59},{"s":"b","x":7280,"y":0.57},{"s":"b","x":6720,"y":0.32},{"s":"b","x":6170,"y":0.14},
{"s":"c","x":35000,"y":2.93},{"s":"c","x":34500,"y":3.11},{"s":"c","x":34080,"y":3.21},{"s":"c","x":33670,"y":3.21},{"s":"c","x":32830,"y":3.39},{"s":"c","x":32280,"y":3.62},{"s":"c","x":31860,"y":3.8},{"s":"c","x":31440,"y":3.78},{"s":"c","x":30890,"y":3.72},{"s":"c","x":30330,"y":3.68},{"s":"c","x":29920,"y":3.65},{"s":"c","x":29720,"y":3.62},{"s":"c","x":29360,"y":3.52},{"s":"c","x":28940,"y":2.88},{"s":"c","x":28530,"y":2.0},{"s":"c","x":28170,"y":1.26},{"s":"c","x":27830,"y":0.81},{"s":"c","x":27420,"y":0.64},{"s":"c","x":26720,"y":0.57},{"s":"c","x":26030,"y":0.52},{"s":"c","x":25330,"y":0.53},{"s":"c","x":24500,"y":0.62},{"s":"c","x":23670,"y":0.61},{"s":"c","x":22690,"y":0.59},{"s":"c","x":22280,"y":0.43},{"s":"c","x":21720,"y":0.3},{"s":"c","x":20890,"y":0.27},{"s":"c","x":18670,"y":0.26},{"s":"c","x":17000,"y":0.28},{"s":"c","x":14500,"y":0.27},{"s":"c","x":12560,"y":0.31},{"s":"c","x":11440,"y":0.31},{"s":"c","x":10610,"y":0.24},{"s":"c","x":9920,"y":0.21},{"s":"c","x":9220,"y":0.28},{"s":"c","x":8390,"y":0.4},{"s":"c","x":7690,"y":0.49},{"s":"c","x":7280,"y":0.48},{"s":"c","x":6720,"y":0.28},{"s":"c","x":6170,"y":0.13},
{"s":"d","x":35000,"y":2.88},{"s":"d","x":34500,"y":3.05},{"s":"d","x":34080,"y":3.15},{"s":"d","x":33670,"y":3.17},{"s":"d","x":32830,"y":3.37},{"s":"d","x":32280,"y":3.63},{"s":"d","x":31860,"y":3.82},{"s":"d","x":31440,"y":3.8},{"s":"d","x":30890,"y":3.78},{"s":"d","x":30330,"y":3.75},{"s":"d","x":29920,"y":3.75},{"s":"d","x":29720,"y":3.75},{"s":"d","x":29360,"y":3.65},{"s":"d","x":28940,"y":3.0},{"s":"d","x":28530,"y":2.06},{"s":"d","x":28170,"y":1.27},{"s":"d","x":27830,"y":0.79},{"s":"d","x":27420,"y":0.62},{"s":"d","x":26720,"y":0.55},{"s":"d","x":26030,"y":0.5},{"s":"d","x":25330,"y":0.51},{"s":"d","x":24500,"y":0.59},{"s":"d","x":23670,"y":0.58},{"s":"d","x":22690,"y":0.56},{"s":"d","x":22280,"y":0.42},{"s":"d","x":21720,"y":0.3},{"s":"d","x":20890,"y":0.27},{"s":"d","x":18670,"y":0.26},{"s":"d","x":17000,"y":0.28},{"s":"d","x":14500,"y":0.27},{"s":"d","x":12560,"y":0.31},{"s":"d","x":11440,"y":0.3},{"s":"d","x":10610,"y":0.23},{"s":"d","x":9920,"y":0.2},{"s":"d","x":9220,"y":0.27},{"s":"d","x":8390,"y":0.38},{"s":"d","x":7690,"y":0.46},{"s":"d","x":7280,"y":0.45},{"s":"d","x":6720,"y":0.27},{"s":"d","x":6170,"y":0.13},
{"s":"e","x":35000,"y":2.82},{"s":"e","x":34500,"y":2.99},{"s":"e","x":34080,"y":3.1},{"s":"e","x":33670,"y":3.12},{"s":"e","x":32830,"y":3.34},{"s":"e","x":32280,"y":3.64},{"s":"e","x":31860,"y":3.84},{"s":"e","x":31440,"y":3.85},{"s":"e","x":30890,"y":3.85},{"s":"e","x":30330,"y":3.88},{"s":"e","x":29920,"y":3.88},{"s":"e","x":29720,"y":3.84},{"s":"e","x":29360,"y":3.72},{"s":"e","x":28940,"y":3.11},{"s":"e","x":28530,"y":2.12},{"s":"e","x":28170,"y":1.29},{"s":"e","x":27830,"y":0.78},{"s":"e","x":27420,"y":0.6},{"s":"e","x":26720,"y":0.52},{"s":"e","x":26030,"y":0.48},{"s":"e","x":25330,"y":0.49},{"s":"e","x":24500,"y":0.56},{"s":"e","x":23670,"y":0.55},{"s":"e","x":22690,"y":0.53},{"s":"e","x":22280,"y":0.4},{"s":"e","x":21720,"y":0.29},{"s":"e","x":20890,"y":0.27},{"s":"e","x":18670,"y":0.26},{"s":"e","x":17000,"y":0.28},{"s":"e","x":14500,"y":0.27},{"s":"e","x":12560,"y":0.3},{"s":"e","x":11440,"y":0.3},{"s":"e","x":10610,"y":0.23},{"s":"e","x":9920,"y":0.19},{"s":"e","x":9220,"y":0.25},{"s":"e","x":8390,"y":0.36},{"s":"e","x":7690,"y":0.43},{"s":"e","x":7280,"y":0.42},{"s":"e","x":6720,"y":0.25},{"s":"e","x":6170,"y":0.13},
{"s":"f","x":35000,"y":2.74},{"s":"f","x":34500,"y":2.9},{"s":"f","x":34080,"y":3.02},{"s":"f","x":33670,"y":3.06},{"s":"f","x":32830,"y":3.31},{"s":"f","x":32280,"y":3.64},{"s":"f","x":31860,"y":3.85},{"s":"f","x":31440,"y":3.9},{"s":"f","x":30890,"y":3.95},{"s":"f","x":30330,"y":4.05},{"s":"f","x":29920,"y":4.12},{"s":"f","x":29720,"y":4.17},{"s":"f","x":29360,"y":4.0},{"s":"f","x":28940,"y":3.29},{"s":"f","x":28530,"y":2.21},{"s":"f","x":28170,"y":1.3},{"s":"f","x":27830,"y":0.76},{"s":"f","x":27420,"y":0.57},{"s":"f","x":26720,"y":0.49},{"s":"f","x":26030,"y":0.45},{"s":"f","x":25330,"y":0.46},{"s":"f","x":24500,"y":0.52},{"s":"f","x":23670,"y":0.51},{"s":"f","x":22690,"y":0.49},{"s":"f","x":22280,"y":0.38},{"s":"f","x":21720,"y":0.29},{"s":"f","x":20890,"y":0.27},{"s":"f","x":18670,"y":0.26},{"s":"f","x":17000,"y":0.27},{"s":"f","x":14500,"y":0.27},{"s":"f","x":12560,"y":0.29},{"s":"f","x":11440,"y":0.28},{"s":"f","x":10610,"y":0.21},{"s":"f","x":9920,"y":0.18},{"s":"f","x":9220,"y":0.23},{"s":"f","x":8390,"y":0.32},{"s":"f","x":7690,"y":0.39},{"s":"f","x":7280,"y":0.38},{"s":"f","x":6720,"y":0.23},{"s":"f","x":6170,"y":0.13},
{"s":"g","x":35000,"y":2.34},{"s":"g","x":34500,"y":2.49},{"s":"g","x":34080,"y":2.63},{"s":"g","x":33670,"y":2.75},{"s":"g","x":32830,"y":3.14},{"s":"g","x":32280,"y":3.52},{"s":"g","x":31860,"y":3.87},{"s":"g","x":31440,"y":4.22},{"s":"g","x":30890,"y":4.5},{"s":"g","x":30330,"y":4.85},{"s":"g","x":29920,"y":5.08},{"s":"g","x":29720,"y":5.16},{"s":"g","x":29360,"y":5.0},{"s":"g","x":28940,"y":4.1},{"s":"g","x":28530,"y":2.62},{"s":"g","x":28170,"y":1.39},{"s":"g","x":27830,"y":0.65},{"s":"g","x":27420,"y":0.41},{"s":"g","x":26720,"y":0.33},{"s":"g","x":26030,"y":0.31},{"s":"g","x":25330,"y":0.3},{"s":"g","x":24500,"y":0.31},{"s":"g","x":23670,"y":0.3},{"s":"g","x":22690,"y":0.29},{"s":"g","x":22280,"y":0.27},{"s":"g","x":21720,"y":0.26},{"s":"g","x":20890,"y":0.25},{"s":"g","x":18670,"y":0.25},{"s":"g","x":17000,"y":0.25},{"s":"g","x":14500,"y":0.25},{"s":"g","x":12560,"y":0.26},{"s":"g","x":11440,"y":0.23},{"s":"g","x":10610,"y":0.16},{"s":"g","x":9920,"y":0.13},{"s":"g","x":9220,"y":0.14},{"s":"g","x":8390,"y":0.16},{"s":"g","x":7690,"y":0.17},{"s":"g","x":7280,"y":0.17},{"s":"g","x":6720,"y":0.14},{"s":"g","x":6170,"y":0.12}]},
"columns":2,"spacing":{"row":120,"column":128},"bounds":"flush",
"resolve":{"scale":{"x":"independent","y":"independent","color":"independent"},"legend":{"color":"independent"},"axis":{"x":"independent","y":"independent"}},
"concat":[
{"width":360,"height":270,"data":{"name":"A"},"layer":[
{"transform":[{"filter":"datum.s!='K'&&datum.s!='N'"}],"mark":{"type":"line","color":"#c2c2c2","strokeWidth":2,"clip":true},"encoding":{"x":{"field":"x","type":"quantitative","scale":{"domain":[5000,35000],"reverse":true,"nice":false,"zero":false},"axis":{"values":[10000,15000,20000,25000,30000],"format":"d","labelExpr":"datum.value%10000==0?datum.label:''","title":"Wavenumber (cm⁻¹)"}},"y":{"field":"y","type":"quantitative","scale":{"domain":[-0.03,7.03],"nice":false,"zero":false},"axis":{"values":[0,1.25,2.5,3.75,5,6.25],"format":".1f","labelExpr":"datum.value%2.5==0?datum.label:''","title":"ε (M⁻¹cm⁻¹)"}},"detail":{"field":"s"}}},
{"transform":[{"filter":"datum.s=='N'"}],"mark":{"type":"line","strokeWidth":2,"clip":true},"encoding":{"x":{"field":"x","type":"quantitative","axis":null},"y":{"field":"y","type":"quantitative","axis":null},"color":{"field":"s","type":"nominal","scale":{"domain":["N","K"],"range":["#1d3f6e","#000000"]},"legend":{"orient":"none","legendX":178,"legendY":11,"title":null,"labelExpr":"datum.label=='N'?'450 mV':'open circuit'"}}}},
{"transform":[{"filter":"datum.s=='K'"}],"mark":{"type":"line","strokeWidth":2,"clip":true},"encoding":{"x":{"field":"x","type":"quantitative","axis":null},"y":{"field":"y","type":"quantitative","axis":null},"color":{"field":"s","type":"nominal"}}},
{"data":{"values":[{"t":"A"}]},"mark":{"type":"text","fontSize":31,"fontWeight":"bold","align":"left","baseline":"alphabetic"},"encoding":{"x":{"datum":33830,"type":"quantitative","axis":{"orient":"top","values":[10000,15000,20000,25000,30000],"labels":false,"title":null}},"y":{"datum":6.0,"type":"quantitative","axis":{"orient":"right","values":[0,1.25,2.5,3.75,5,6.25],"labels":false,"title":null}},"text":{"field":"t"}}},
{"data":{"values":[{"t":"10⁴"}]},"mark":{"type":"text","fontSize":12,"fontWeight":"bold","align":"left","baseline":"alphabetic","dy":-5},"encoding":{"x":{"datum":35000,"type":"quantitative","axis":null},"y":{"datum":7.03,"type":"quantitative","axis":null},"text":{"field":"t"}}}
],"resolve":{"axis":{"x":"independent","y":"independent"}}},
{"width":360,"height":270,"data":{"name":"B"},"layer":[
{"transform":[{"filter":"datum.s!='K'&&datum.s!='N'"}],"mark":{"type":"line","color":"#c2c2c2","strokeWidth":2,"clip":true},"encoding":{"x":{"field":"x","type":"quantitative","scale":{"domain":[5000,35000],"reverse":true,"nice":false,"zero":false},"axis":{"values":[10000,15000,20000,25000,30000],"format":"d","labelExpr":"datum.value%10000==0?datum.label:''","title":"Wavenumber (cm⁻¹)"}},"y":{"field":"y","type":"quantitative","scale":{"domain":[-0.03,7.03],"nice":false,"zero":false},"axis":{"values":[0,1.25,2.5,3.75,5,6.25],"format":".1f","labelExpr":"datum.value%2.5==0?datum.label:''","title":"ε (M⁻¹cm⁻¹)"}},"detail":{"field":"s"}}},
{"transform":[{"filter":"datum.s=='N'"}],"mark":{"type":"line","strokeWidth":2,"clip":true},"encoding":{"x":{"field":"x","type":"quantitative","axis":null},"y":{"field":"y","type":"quantitative","axis":null},"color":{"field":"s","type":"nominal","scale":{"domain":["N","K"],"range":["#1f6fcc","#000000"]},"legend":{"orient":"none","legendX":178,"legendY":11,"title":null,"labelExpr":"datum.label=='N'?'350 mV':'open circuit'"}}}},
{"transform":[{"filter":"datum.s=='K'"}],"mark":{"type":"line","strokeWidth":2,"clip":true},"encoding":{"x":{"field":"x","type":"quantitative","axis":null},"y":{"field":"y","type":"quantitative","axis":null},"color":{"field":"s","type":"nominal"}}},
{"data":{"values":[{"t":"B"}]},"mark":{"type":"text","fontSize":31,"fontWeight":"bold","align":"left","baseline":"alphabetic"},"encoding":{"x":{"datum":33830,"type":"quantitative","axis":{"orient":"top","values":[10000,15000,20000,25000,30000],"labels":false,"title":null}},"y":{"datum":6.0,"type":"quantitative","axis":{"orient":"right","values":[0,1.25,2.5,3.75,5,6.25],"labels":false,"title":null}},"text":{"field":"t"}}},
{"data":{"values":[{"t":"10⁴"}]},"mark":{"type":"text","fontSize":12,"fontWeight":"bold","align":"left","baseline":"alphabetic","dy":-5},"encoding":{"x":{"datum":35000,"type":"quantitative","axis":null},"y":{"datum":7.03,"type":"quantitative","axis":null},"text":{"field":"t"}}}
],"resolve":{"axis":{"x":"independent","y":"independent"}}},
{"width":360,"height":270,"data":{"name":"C"},"layer":[
{"transform":[{"filter":"datum.s!='K'&&datum.s!='N'"}],"mark":{"type":"line","color":"#c2c2c2","strokeWidth":2,"clip":true},"encoding":{"x":{"field":"x","type":"quantitative","scale":{"domain":[5000,35000],"reverse":true,"nice":false,"zero":false},"axis":{"values":[10000,15000,20000,25000,30000],"format":"d","labelExpr":"datum.value%10000==0?datum.label:''","title":"Wavenumber (cm⁻¹)"}},"y":{"field":"y","type":"quantitative","scale":{"domain":[-0.25,7.0],"nice":false,"zero":false},"axis":{"values":[0,1.25,2.5,3.75,5,6.25],"format":".1f","labelExpr":"datum.value%2.5==0?datum.label:''","title":"ε (M⁻¹cm⁻¹)"}},"detail":{"field":"s"}}},
{"transform":[{"filter":"datum.s=='N'"}],"mark":{"type":"line","strokeWidth":2,"clip":true},"encoding":{"x":{"field":"x","type":"quantitative","axis":null},"y":{"field":"y","type":"quantitative","axis":null},"color":{"field":"s","type":"nominal","scale":{"domain":["N","K"],"range":["#62aef0","#000000"]},"legend":{"orient":"none","legendX":178,"legendY":11,"title":null,"labelExpr":"datum.label=='N'?'550 mV':'open circuit'"}}}},
{"transform":[{"filter":"datum.s=='K'"}],"mark":{"type":"line","strokeWidth":2,"clip":true},"encoding":{"x":{"field":"x","type":"quantitative","axis":null},"y":{"field":"y","type":"quantitative","axis":null},"color":{"field":"s","type":"nominal"}}},
{"data":{"values":[{"t":"C"}]},"mark":{"type":"text","fontSize":31,"fontWeight":"bold","align":"left","baseline":"alphabetic"},"encoding":{"x":{"datum":33830,"type":"quantitative","axis":{"orient":"top","values":[10000,15000,20000,25000,30000],"labels":false,"title":null}},"y":{"datum":6.0,"type":"quantitative","axis":{"orient":"right","values":[0,1.25,2.5,3.75,5,6.25],"labels":false,"title":null}},"text":{"field":"t"}}},
{"data":{"values":[{"t":"10⁴"}]},"mark":{"type":"text","fontSize":12,"fontWeight":"bold","align":"left","baseline":"alphabetic","dy":-5},"encoding":{"x":{"datum":35000,"type":"quantitative","axis":null},"y":{"datum":7.0,"type":"quantitative","axis":null},"text":{"field":"t"}}}
],"resolve":{"axis":{"x":"independent","y":"independent"}}},
{"width":360,"height":270,"data":{"name":"D"},"layer":[
{"transform":[{"filter":"datum.s!='K'&&datum.s!='N'"}],"mark":{"type":"line","color":"#c2c2c2","strokeWidth":2,"clip":true},"encoding":{"x":{"field":"x","type":"quantitative","scale":{"domain":[5000,35000],"reverse":true,"nice":false,"zero":false},"axis":{"values":[10000,15000,20000,25000,30000],"format":"d","labelExpr":"datum.value%10000==0?datum.label:''","title":"Wavenumber (cm⁻¹)"}},"y":{"field":"y","type":"quantitative","scale":{"domain":[-0.03,7.03],"nice":false,"zero":false},"axis":{"values":[0,1.25,2.5,3.75,5,6.25],"format":".1f","labelExpr":"datum.value%2.5==0?datum.label:''","title":"ε (M⁻¹cm⁻¹)"}},"detail":{"field":"s"}}},
{"transform":[{"filter":"datum.s=='N'"}],"mark":{"type":"line","strokeWidth":2,"clip":true},"encoding":{"x":{"field":"x","type":"quantitative","axis":null},"y":{"field":"y","type":"quantitative","axis":null},"color":{"field":"s","type":"nominal","scale":{"domain":["N","K"],"range":["#b5dbf5","#000000"]},"legend":{"orient":"none","legendX":178,"legendY":11,"title":null,"labelExpr":"datum.label=='N'?'450 mV':'open circuit'"}}}},
{"transform":[{"filter":"datum.s=='K'"}],"mark":{"type":"line","strokeWidth":2,"clip":true},"encoding":{"x":{"field":"x","type":"quantitative","axis":null},"y":{"field":"y","type":"quantitative","axis":null},"color":{"field":"s","type":"nominal"}}},
{"data":{"values":[{"t":"D"}]},"mark":{"type":"text","fontSize":31,"fontWeight":"bold","align":"left","baseline":"alphabetic"},"encoding":{"x":{"datum":33830,"type":"quantitative","axis":{"orient":"top","values":[10000,15000,20000,25000,30000],"labels":false,"title":null}},"y":{"datum":6.0,"type":"quantitative","axis":{"orient":"right","values":[0,1.25,2.5,3.75,5,6.25],"labels":false,"title":null}},"text":{"field":"t"}}},
{"data":{"values":[{"t":"10⁴"}]},"mark":{"type":"text","fontSize":12,"fontWeight":"bold","align":"left","baseline":"alphabetic","dy":-5},"encoding":{"x":{"datum":35000,"type":"quantitative","axis":null},"y":{"datum":7.03,"type":"quantitative","axis":null},"text":{"field":"t"}}}
],"resolve":{"axis":{"x":"independent","y":"independent"}}}
],
"config":{"font":"DejaVu Sans","view":{"stroke":"#000000","strokeWidth":2},
"axis":{"domain":false,"grid":false,"ticks":true,"tickSize":-5,"tickColor":"#000000","tickWidth":1.5,"labelFont":"DejaVu Sans","labelFontSize":13,"labelFontWeight":"bold","labelColor":"#000000","titleFont":"DejaVu Sans","titleFontSize":18,"titleFontWeight":"bold","titleColor":"#000000"},
"axisBottom":{"labelPadding":12,"titlePadding":16},"axisLeft":{"labelPadding":12,"titlePadding":10},
"legend":{"symbolType":"stroke","symbolSize":2500,"symbolStrokeWidth":2.5,"labelFont":"DejaVu Sans","labelFontSize":18,"labelColor":"#000000","labelOffset":5,"clipHeight":26,"rowPadding":0,"padding":0}}
}
